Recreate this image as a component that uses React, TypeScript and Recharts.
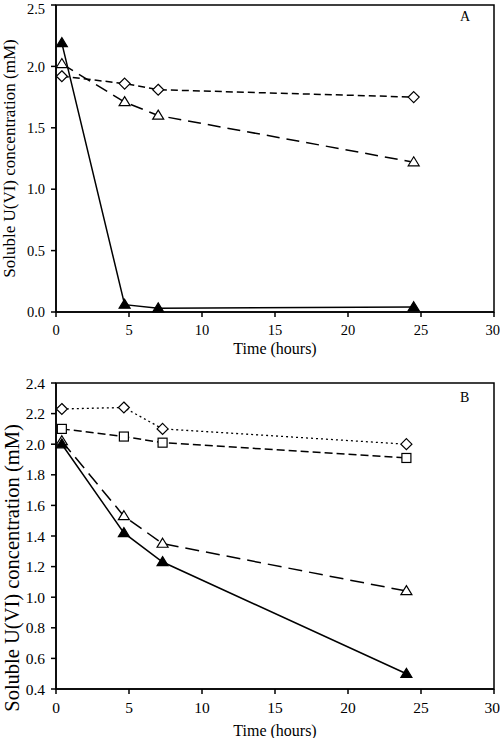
import React from 'react';
import { LineChart, Line, XAxis, YAxis, ReferenceArea, Label } from 'recharts';

// panel A
const timeA = [0.4, 4.7, 7.0, 24.5];
const filledTriA = [2.19, 0.06, 0.03, 0.04];
const diamondA = [1.92, 1.86, 1.81, 1.75];
const openTriA = [2.02, 1.71, 1.6, 1.22];
const yTicksA = [0, 0.5, 1.0, 1.5, 2.0, 2.5];

// panel B
const timeB = [0.4, 4.65, 7.3, 24.0];
const diamondB = [2.23, 2.24, 2.1, 2.0];
const squareB = [2.1, 2.05, 2.01, 1.91];
const openTriB = [2.02, 1.53, 1.35, 1.04];
const filledTriB = [2.0, 1.42, 1.23, 0.5];
const yTicksB = [0.4, 0.6, 0.8, 1.0, 1.2, 1.4, 1.6, 1.8, 2.0, 2.2, 2.4];

const xTicks = [0, 5, 10, 15, 20, 25, 30];

const dataA = timeA.map((t, i) => ({ t, filled: filledTriA[i], diamond: diamondA[i], openTri: openTriA[i] }));
const dataB = timeB.map((t, i) => ({
  t,
  diamond: diamondB[i],
  square: squareB[i],
  openTri: openTriB[i],
  filled: filledTriB[i],
}));

const FONT = 'Liberation Serif, DejaVu Serif, serif';
const tickStyleA = { fill: '#000', fontSize: 14.5, style: { fontFamily: FONT } };
const tickStyleB = { fill: '#000', fontSize: 15.5, style: { fontFamily: FONT } };

const triangle = (fill: string) => (props: any) => {
  const { cx, cy, index } = props;
  if (cx == null || cy == null) return <g key={index} />;
  const w = 5.5;
  const h = 9;
  return (
    <path
      key={index}
      d={`M${cx},${cy - h * 0.6} L${cx + w},${cy + h * 0.4} L${cx - w},${cy + h * 0.4} Z`}
      fill={fill}
      stroke="#000"
      strokeWidth={1.2}
    />
  );
};

const diamond = (props: any) => {
  const { cx, cy, index } = props;
  if (cx == null || cy == null) return <g key={index} />;
  const r = 5.5;
  return (
    <path
      key={index}
      d={`M${cx},${cy - r} L${cx + r},${cy} L${cx},${cy + r} L${cx - r},${cy} Z`}
      fill="#fff"
      stroke="#000"
      strokeWidth={1.2}
    />
  );
};

const square = (props: any) => {
  const { cx, cy, index } = props;
  if (cx == null || cy == null) return <g key={index} />;
  const r = 4.5;
  return <rect key={index} x={cx - r} y={cy - r} width={r * 2} height={r * 2} fill="#fff" stroke="#000" strokeWidth={1.2} />;
};

const yTitle = (shift: number, size: number, x: number) => (props: any) => {
  const { viewBox } = props;
  const y = viewBox.y + viewBox.height / 2 + shift;
  return (
    <text
      x={x}
      y={y}
      transform={`rotate(-90, ${x}, ${y})`}
      textAnchor="middle"
      dominantBaseline="central"
      fontSize={size}
      style={{ fontFamily: FONT }}
      fill="#000"
    >
      Soluble U(VI) concentration (mM)
    </text>
  );
};

const xTitle = (gap: number) => (props: any) => {
  const { viewBox } = props;
  return (
    <text
      x={viewBox.x + viewBox.width / 2}
      y={viewBox.y + gap}
      textAnchor="middle"
      dominantBaseline="central"
      fontSize={16}
      style={{ fontFamily: FONT }}
      fill="#000"
    >
      Time (hours)
    </text>
  );
};

const panelLetter = (text: string, top: number) => (
  <div
    style={{
      position: 'absolute',
      left: 460,
      top,
      fontFamily: FONT,
      fontSize: 14,
      lineHeight: '14px',
      color: '#000',
    }}
  >
    {text}
  </div>
);

const axisLine = { stroke: '#000', strokeWidth: 1.5 };
const tickLine = { stroke: '#000', strokeWidth: 1.5 };

export default function App() {
  return (
    <div style={{ position: 'absolute', left: 0, top: 0, width: 500, height: 738, background: '#fff', fontFamily: FONT }}>
      <div style={{ position: 'absolute', left: 0, top: 0 }}>
        <LineChart width={500} height={370} data={dataA} margin={{ top: 5, right: 6, left: 0, bottom: 0 }}>
          <XAxis
            dataKey="t"
            type="number"
            domain={[0, 30]}
            ticks={xTicks}
            height={58}
            tickSize={5}
            tickMargin={8}
            tick={tickStyleA}
            axisLine={axisLine}
            tickLine={tickLine}
          >
            <Label content={xTitle(36)} />
          </XAxis>
          <YAxis
            type="number"
            domain={[0, 2.5]}
            ticks={yTicksA}
            width={56}
            tickSize={5}
            tickMargin={6}
            tick={tickStyleA}
            axisLine={axisLine}
            tickLine={tickLine}
            tickFormatter={(v: number) => v.toFixed(1)}
          >
            <Label content={yTitle(0, 17, 9.5)} />
          </YAxis>
          <ReferenceArea x1={0} x2={30} y1={0} y2={2.5} fill="none" fillOpacity={0} stroke="#000" strokeWidth={1.5} />
          <Line dataKey="filled" stroke="#000" strokeWidth={1.5} dot={triangle('#000')} isAnimationActive={false} />
          <Line dataKey="diamond" stroke="#000" strokeWidth={1.5} strokeDasharray="7 4" dot={diamond} isAnimationActive={false} />
          <Line dataKey="openTri" stroke="#000" strokeWidth={1.5} strokeDasharray="13 7" dot={triangle('#fff')} isAnimationActive={false} />
        </LineChart>
        {panelLetter('A', 10)}
      </div>
      <div style={{ position: 'absolute', left: 0, top: 370 }}>
        <LineChart width={500} height={368} data={dataB} margin={{ top: 13, right: 6, left: 0, bottom: 0 }}>
          <XAxis
            dataKey="t"
            type="number"
            domain={[0, 30]}
            ticks={xTicks}
            height={49}
            tickSize={5}
            tickMargin={8}
            tick={tickStyleB}
            axisLine={axisLine}
            tickLine={tickLine}
          >
            <Label content={xTitle(41)} />
          </XAxis>
          <YAxis
            type="number"
            domain={[0.4, 2.4]}
            ticks={yTicksB}
            width={56}
            tickSize={5}
            tickMargin={6}
            tick={tickStyleB}
            axisLine={axisLine}
            tickLine={tickLine}
            tickFormatter={(v: number) => v.toFixed(1)}
          >
            <Label content={yTitle(32, 20.5, 11.5)} />
          </YAxis>
          <ReferenceArea x1={0} x2={30} y1={0.4} y2={2.4} fill="none" fillOpacity={0} stroke="#000" strokeWidth={1.5} />
          <Line dataKey="diamond" stroke="#000" strokeWidth={1.3} strokeDasharray="2 3" dot={diamond} isAnimationActive={false} />
          <Line dataKey="square" stroke="#000" strokeWidth={1.5} strokeDasharray="8 4" dot={square} isAnimationActive={false} />
          <Line dataKey="openTri" stroke="#000" strokeWidth={1.5} strokeDasharray="14 7" dot={triangle('#fff')} isAnimationActive={false} />
          <Line dataKey="filled" stroke="#000" strokeWidth={1.5} dot={triangle('#000')} isAnimationActive={false} />
        </LineChart>
        {panelLetter('B', 21)}
      </div>
    </div>
  );
}
